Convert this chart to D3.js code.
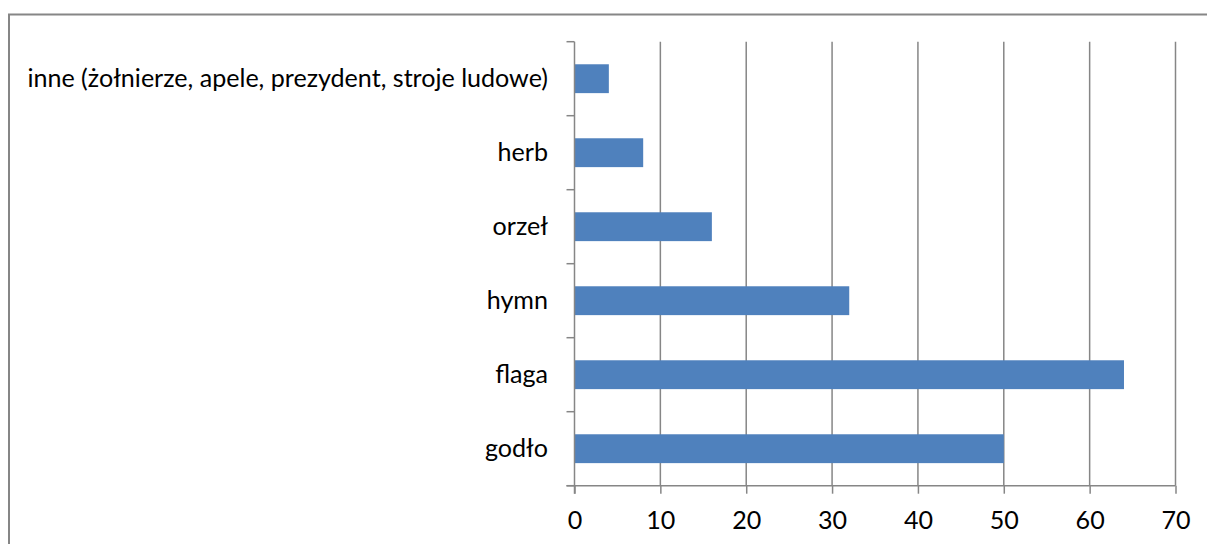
<!DOCTYPE html>
<html><head><meta charset="utf-8">
<script src="https://cdn.jsdelivr.net/npm/d3@7"></script>
<style>html,body{margin:0;padding:0;background:#fff;overflow:hidden}</style>
</head><body>
<svg id="c" width="1207" height="544"></svg>
<script>
const categories = ["inne (żołnierze, apele, prezydent, stroje ludowe)", "herb", "orzeł", "hymn", "flaga", "godło"];
const values = [4, 8, 16, 32, 64, 50];
const xTicks = [0, 10, 20, 30, 40, 50, 60, 70];

(function () {
const svg = d3.select("#c");
const font = "Lato, 'Open Sans', sans-serif";
const mLeft = 574.5, mRight = 1175.5, mTop = 41.7, mBottom = 485.7;

// chart border
svg.append("rect").attr("x", 9).attr("y", 14.5).attr("width", 1250).attr("height", 600)
  .attr("fill", "none").attr("stroke", "#868686").attr("stroke-width", 2);

const x = d3.scaleLinear().domain([0, 70]).range([mLeft, mRight]);
const y = d3.scaleBand().domain(categories).range([mTop, mBottom]).paddingInner(0.61).paddingOuter(0.305);

// gridlines
svg.append("g").selectAll("line").data(xTicks.slice(1)).join("line")
  .attr("x1", d => x(d)).attr("x2", d => x(d)).attr("y1", mTop).attr("y2", mBottom)
  .attr("stroke", "#868686").attr("stroke-width", 1.5);

// bars
svg.append("g").selectAll("rect").data(values).join("rect")
  .attr("x", x(0)).attr("y", (d, i) => y(categories[i]))
  .attr("width", d => x(d) - x(0)).attr("height", y.bandwidth())
  .attr("fill", "#4F81BD");

// x axis
const xAxis = svg.append("g").attr("transform", `translate(0,${mBottom})`)
  .call(d3.axisBottom(x).tickValues(xTicks).tickSize(8).tickPadding(14).tickSizeOuter(0));
xAxis.select(".domain").attr("stroke", "#868686").attr("stroke-width", 1.5).attr("d", `M${mLeft-8},0H${mRight}`);
xAxis.selectAll(".tick line").attr("stroke", "#868686").attr("stroke-width", 1.5);
xAxis.selectAll(".tick text").attr("font-family", font).attr("fill", "#000")
  .attr("y", 43.5).attr("dy", null);

// y axis (boundary ticks)
const step = y.step();
const bounds = d3.range(categories.length + 1).map(i => mTop + i * step);
svg.append("line").attr("x1", mLeft).attr("x2", mLeft).attr("y1", mTop).attr("y2", mBottom + 8)
  .attr("stroke", "#868686").attr("stroke-width", 1.5);
svg.append("g").selectAll("line").data(bounds).join("line")
  .attr("x1", mLeft - 8).attr("x2", mLeft).attr("y1", d => d).attr("y2", d => d)
  .attr("stroke", "#868686").attr("stroke-width", 1.5);

const labels = svg.append("g").selectAll("text").data(categories).join("text")
  .attr("x", 548).attr("y", d => y(d) + y.bandwidth() / 2 + 8)
  .attr("text-anchor", "end").attr("font-family", font).attr("font-size", 20).attr("fill", "#000")
  .text(d => d);

// fit font so the longest label spans like the reference
const w = labels.nodes()[0].getComputedTextLength();
const fs = Math.min(26, 20 * 521 / w);
labels.attr("font-size", fs);
xAxis.selectAll(".tick text").attr("font-size", fs);
})();
</script>
</body></html>
